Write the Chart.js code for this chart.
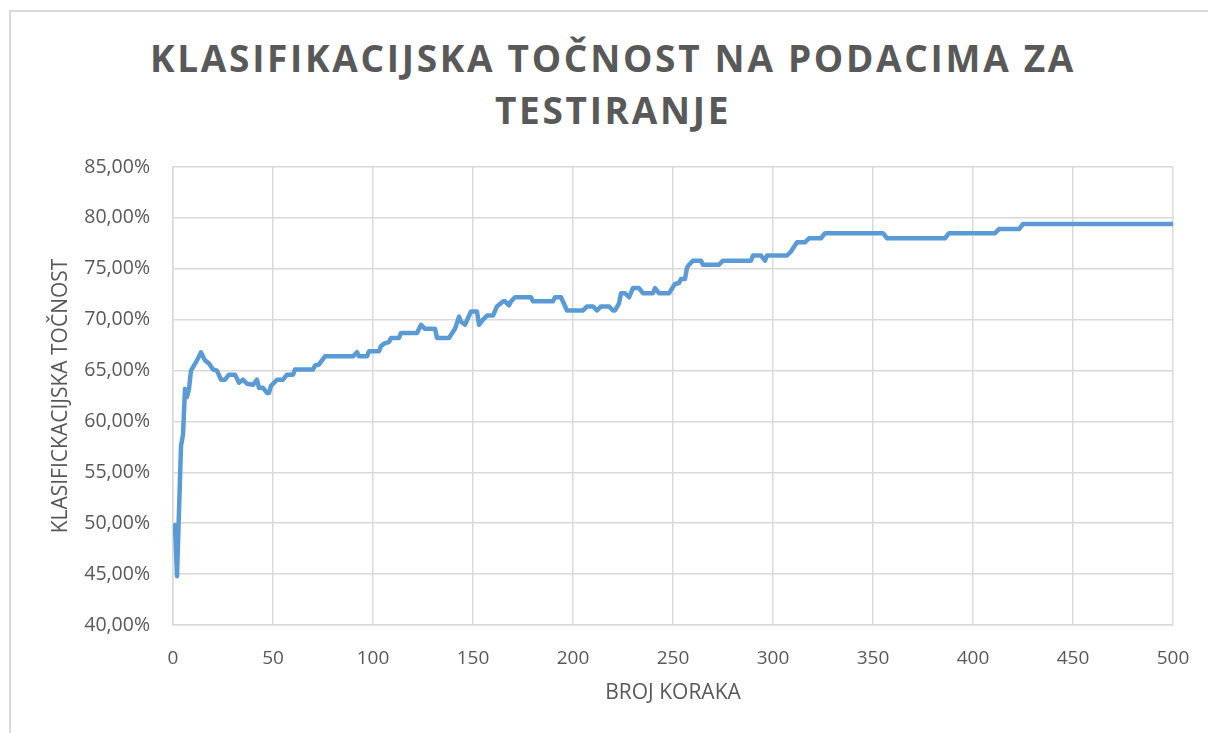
<!DOCTYPE html>
<html lang="hr">
<head>
<meta charset="UTF-8">
<title>Klasifikacijska točnost</title>
<script src="https://cdn.jsdelivr.net/npm/chart.js@4.4.1/dist/chart.umd.min.js"></script>
<style>
    html, body {
        margin: 0;
        padding: 0;
        background: #fff;
        overflow: hidden;
        width: 1208px;
        height: 733px;
    }
    .frame {
        position: absolute;
        left: 9px;
        top: 10px;
        width: 1300px;
        height: 800px;
        border-left: 2px solid #d9d9d9;
        border-top: 2px solid #d9d9d9;
    }
    .title {
        position: absolute;
        left: 0;
        top: 32px;
        width: 1226px;
        text-align: center;
        font-family: "Open Sans", sans-serif;
        font-weight: bold;
        font-size: 37px;
        line-height: 52px;
        letter-spacing: 2.7px;
        color: #595959;
    }
    #chart {
        position: absolute;
        left: 0;
        top: 0;
    }
</style>
</head>
<body>
<div class="frame"></div>
<div class="title">KLASIFIKACIJSKA TOČNOST NA PODACIMA ZA<br>TESTIRANJE</div>
<canvas id="chart" width="1208" height="733"></canvas>

<script>
    // broj koraka (samo tocke gdje se tocnost mijenja)
    const steps = [
        1, 2, 4, 5, 6, 7, 8, 9, 12, 14, 16, 18, 20, 22, 24, 26, 28, 31, 33, 35,
        37, 40, 42, 43, 45, 47, 48, 49, 52, 55, 57, 60, 61, 70, 71, 73, 76, 90, 92, 93,
        97, 98, 103, 104, 106, 108, 109, 113, 114, 122, 124, 126, 131, 132, 138, 141, 143, 144, 146, 149,
        152, 153, 155, 157, 160, 162, 165, 166, 168, 169, 171, 179, 180, 190, 191, 194, 197, 205, 207, 210,
        212, 214, 218, 220, 221, 223, 224, 226, 228, 230, 233, 235, 240, 241, 243, 248, 251, 253, 254, 256,
        257, 258, 260, 264, 265, 273, 275, 289, 290, 294, 296, 297, 307, 309, 312, 316, 318, 324, 326, 355,
        357, 386, 388, 411, 413, 423, 425, 500
    ];
    // tocnost u postocima
    const accuracy = [
        49.8, 44.8, 57.6, 58.7, 63.2, 62.4, 63.2, 65.0, 66.0, 66.8, 66.0, 65.7, 65.1, 65.0, 64.1, 64.1, 64.6, 64.6, 63.8, 64.1,
        63.7, 63.6, 64.1, 63.3, 63.3, 62.8, 62.8, 63.5, 64.1, 64.1, 64.6, 64.6, 65.1, 65.1, 65.5, 65.6, 66.4, 66.4, 66.8, 66.4,
        66.4, 66.9, 66.9, 67.4, 67.7, 67.8, 68.2, 68.2, 68.7, 68.7, 69.5, 69.1, 69.1, 68.2, 68.2, 69.1, 70.3, 69.8, 69.5, 70.8,
        70.8, 69.5, 70.0, 70.4, 70.4, 71.3, 71.8, 71.8, 71.4, 71.8, 72.2, 72.2, 71.8, 71.8, 72.2, 72.2, 70.9, 70.9, 71.3, 71.3,
        70.9, 71.3, 71.3, 70.9, 70.9, 71.6, 72.6, 72.6, 72.2, 73.1, 73.1, 72.6, 72.6, 73.1, 72.6, 72.6, 73.5, 73.6, 74.0, 74.0,
        75.1, 75.4, 75.8, 75.8, 75.4, 75.4, 75.8, 75.8, 76.3, 76.3, 75.8, 76.3, 76.3, 76.7, 77.6, 77.6, 78.0, 78.0, 78.5, 78.5,
        78.0, 78.0, 78.5, 78.5, 78.9, 78.9, 79.4, 79.4
    ];
    const xTicks = [0, 50, 100, 150, 200, 250, 300, 350, 400, 450, 500];
    const yTicks = [40, 45, 50, 55, 60, 65, 70, 75, 80, 85];

    const textColor = '#595959';
    const gridColor = '#d9d9d9';

    const points = steps.map((s, i) => ({ x: s, y: accuracy[i] }));

    new Chart(document.getElementById('chart'), {
        type: 'line',
        data: {
            datasets: [{
                data: points,
                borderColor: '#5b9bd5',
                borderWidth: 4.5,
                pointRadius: 0,
                tension: 0,
                borderJoinStyle: 'round',
                borderCapStyle: 'round',
                fill: false
            }]
        },
        options: {
            responsive: false,
            animation: false,
            layout: {
                padding: { top: 167, right: 35, bottom: 0, left: 0 }
            },
            plugins: {
                legend: { display: false },
                tooltip: { enabled: false }
            },
            scales: {
                x: {
                    type: 'linear',
                    min: xTicks[0],
                    max: xTicks[xTicks.length - 1],
                    afterBuildTicks: scale => { scale.ticks = xTicks.map(v => ({ value: v })); },
                    afterFit: scale => { scale.height = 108; },
                    // tick marks are invisible, they only push the labels away from the axis
                    grid: { color: gridColor, lineWidth: 1.5, tickLength: 20, tickColor: 'rgba(0,0,0,0)' },
                    border: { color: gridColor, width: 1.5 },
                    ticks: {
                        color: textColor,
                        padding: 2,
                        maxRotation: 0,
                        font: { family: 'Open Sans', size: 19 }
                    },
                    title: {
                        display: true,
                        text: 'BROJ KORAKA',
                        color: textColor,
                        font: { family: 'Open Sans', size: 21 },
                        padding: { top: 0, bottom: 27 }
                    }
                },
                y: {
                    min: yTicks[0],
                    max: yTicks[yTicks.length - 1],
                    afterBuildTicks: scale => { scale.ticks = yTicks.map(v => ({ value: v })); },
                    afterFit: scale => { scale.width = 173; },
                    grid: { color: gridColor, lineWidth: 1.5, tickLength: 20, tickColor: 'rgba(0,0,0,0)' },
                    border: { color: gridColor, width: 1.5 },
                    ticks: {
                        color: textColor,
                        padding: 3,
                        font: { family: 'Open Sans', size: 19.5 },
                        callback: v => v.toFixed(2).replace('.', ',') + '%'
                    },
                    title: {
                        display: true,
                        text: 'KLASIFICKACIJSKA TOČNOST',
                        color: textColor,
                        font: { family: 'Open Sans', size: 21 },
                        padding: { top: 48, bottom: 0 }
                    }
                }
            }
        }
    });
</script>
</body>
</html>
